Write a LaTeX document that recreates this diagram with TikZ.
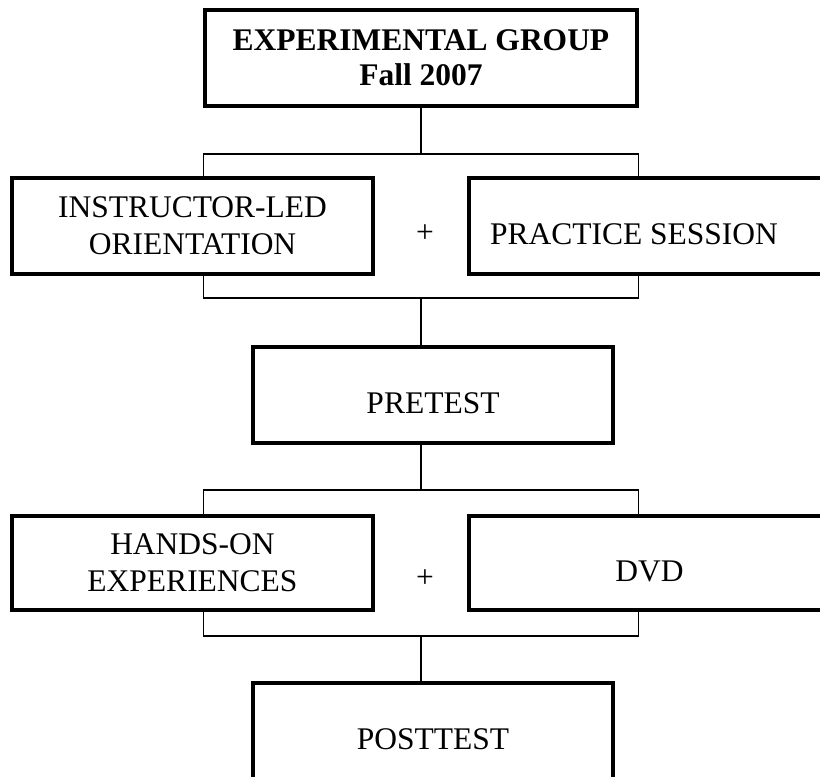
\documentclass[tikz,border=0pt]{standalone}
\usepackage{fontspec}
\setmainfont{Liberation Serif}
\begin{document}
\begin{tikzpicture}[x=1pt,y=-1pt,
  box/.style={draw, line width=3.2pt, rectangle, minimum width=361pt, minimum height=96pt, inner sep=0pt, font=\fontsize{31.5}{37}\selectfont},
  oneline/.style={text height=37pt, text depth=0pt},
  twoline/.style={align=center},
  conn/.style={line width=1.2pt},
  plus/.style={font=\fontsize{31.5}{37}\selectfont, inner sep=0pt}]
\fill[white] (0,0) rectangle (820,777);
\useasboundingbox (0,0) rectangle (820,777);

% boxes
\node[box, twoline, minimum width=432pt, font=\fontsize{31.5}{35}\selectfont\bfseries] (top) at (421,58) {EXPERIMENTAL GROUP\\Fall 2007};
\node[box, twoline] (instr) at (192.5,226) {INSTRUCTOR-LED\\ORIENTATION};
\node[box, oneline] (prac) at (649.5,226) {PRACTICE SESSION\hspace*{31pt}};
\node[plus] (plus1) at (425,234) {+};
\node[box, oneline, minimum width=360pt] (pre) at (433,395) {PRETEST};
\node[box, twoline, minimum height=94pt] (hands) at (192.5,563) {HANDS-ON\\EXPERIENCES};
\node[box, oneline, minimum height=94pt] (dvd) at (649.5,563) {DVD};
\node[plus] (plus2) at (425,579) {+};
\node[box, oneline, minimum width=360pt] (post) at (433,731) {POSTTEST};

% junction points
\coordinate (j1) at (421,154);
\coordinate (j2) at (421,298);
\coordinate (j3) at (421,490);
\coordinate (j4) at (421,636);

% connectors
\draw[conn] (top.south) -- (j1);
\draw[conn] (top.west |- instr.north) |- (j1) -| (top.east |- prac.north);
\draw[conn] (top.west |- instr.south) |- (j2) -| (top.east |- prac.south);
\draw[conn] (j2) -- (j2 |- pre.north);
\draw[conn] (j3 |- pre.south) -- (j3);
\draw[conn] (top.west |- hands.north) |- (j3) -| (top.east |- dvd.north);
\draw[conn] (top.west |- hands.south) |- (j4) -| (top.east |- dvd.south);
\draw[conn] (j4) -- (j4 |- post.north);
\end{tikzpicture}
\end{document}
